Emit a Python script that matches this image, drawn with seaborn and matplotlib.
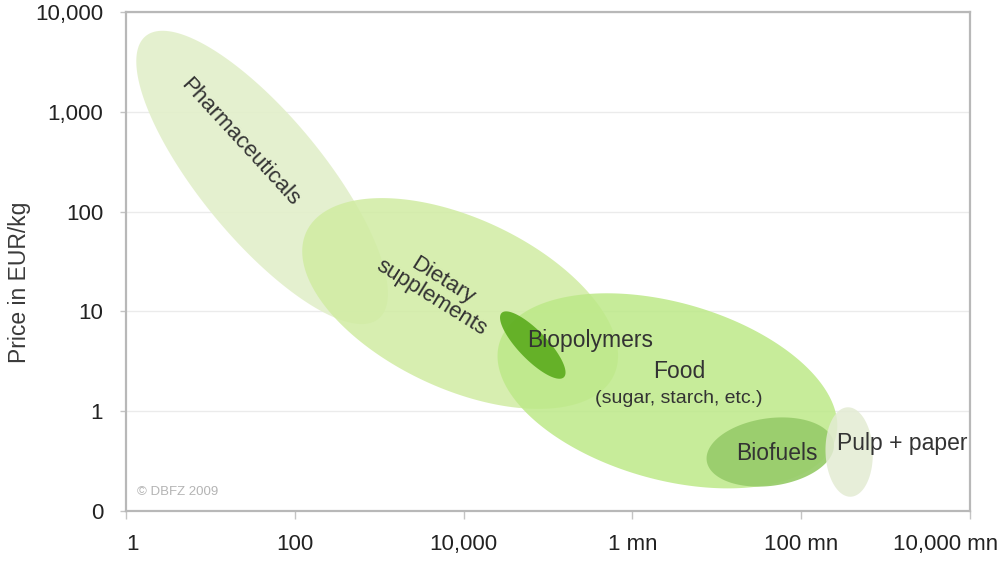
import numpy as np
import pandas as pd
import matplotlib
matplotlib.use('Agg')
import matplotlib.pyplot as plt
import matplotlib.transforms as mtransforms
import seaborn as sns

# market segments: typical volume (t/a) and price (EUR/kg) at the centre of each cloud
categories = ['Pharmaceuticals', 'Dietary supplements', 'Food', 'Biopolymers', 'Biofuels', 'Pulp + paper']
volume_centre = [41, 9.1e3, 2.6e6, 6.6e4, 4.3e7, 3.7e8]
price_centre = [220, 12, 1.6, 4.6, 0.39, 0.39]

x_ticks = [1, 1e2, 1e4, 1e6, 1e8, 1e10]
x_tick_labels = ['1', '100', '10,000', '1 mn', '100 mn', '10,000 mn']
y_ticks = [0.1, 1, 10, 100, 1e3, 1e4]
y_tick_labels = ['0', '1', '10', '100', '1,000', '10,000']

df = pd.DataFrame({'category': categories, 'volume': volume_centre, 'price': price_centre})

# ellipse shape: semi-axes (in x-decades), tilt (deg, downwards to the right), fill colour, alpha
SHAPES = {
    'Pharmaceuticals': (2.17, 0.73, 50.5, '#e2efca', 0.9),
    'Dietary supplements': (2.01, 1.01, 25, '#d0eca2', 0.85),
    'Food': (2.07, 1.05, 15.7, '#bde988', 0.85),
    'Biopolymers': (0.53, 0.17, 46, '#5dad20', 0.92),
    'Biofuels': (0.76, 0.40, -8, '#99cd6c', 0.95),
    'Pulp + paper': (0.53, 0.28, 88, '#e3ebd3', 0.85),
}

sns.set_theme(style='white')
plt.rcParams['font.family'] = ['Liberation Sans', 'DejaVu Sans']

fig = plt.figure(figsize=(9.97, 5.61), dpi=100)
ax = fig.add_axes([126 / 997, 50 / 561, 844 / 997, 499 / 561])
ax.set_xscale('log')
ax.set_yscale('log')
ax.set_xlim(1, 1e10)
ax.set_ylim(0.1, 1e4)

# pixels per decade, used to keep ellipse tilts right on screen
bbox = ax.get_window_extent()
sx = bbox.width / 10
sy = bbox.height / 5

t = np.linspace(0, 2 * np.pi, 300)
for _, row in df.iterrows():
    a, b, tilt, color, alpha = SHAPES[row['category']]
    phi = -np.radians(tilt)
    u = a * np.cos(t)
    v = b * np.sin(t)
    xl = np.log10(row['volume']) + u * np.cos(phi) - v * np.sin(phi)
    yl = np.log10(row['price']) + (u * np.sin(phi) + v * np.cos(phi)) * sx / sy
    ax.fill(10 ** xl, 10 ** yl, color=color, alpha=alpha, lw=0, zorder=2)

txt = '#333333'
ax.text(22.4, 498, 'Pharmaceuticals', rotation=-47.5, rotation_mode='anchor',
        ha='center', va='center', fontsize=16, color=txt, zorder=5)
ax.text(4840, 16.8, 'Dietary\nsupplements', rotation=-32, rotation_mode='anchor',
        ha='center', va='center', multialignment='center', fontsize=16,
        color=txt, linespacing=0.95, zorder=5)
ax.text(3.15e5, 4.4, 'Biopolymers', ha='center', va='baseline', fontsize=16.5, color=txt, zorder=5)
ax.text(3.57e6, 2.15, 'Food', ha='center', va='baseline', fontsize=16.5, color=txt, zorder=5)
ax.text(3.57e6, 1.21, '(sugar, starch, etc.)', ha='center', va='baseline', fontsize=14, color=txt, zorder=5)
ax.text(5.17e7, 0.324, 'Biofuels', ha='center', va='baseline', fontsize=16.5, color=txt, zorder=5)
ax.text(1.56e9, 0.408, 'Pulp + paper', ha='center', va='baseline', fontsize=16.5, color=txt, zorder=5)
ax.text(1.35, 0.145, '\u00a9 DBFZ 2009', ha='left', va='baseline', fontsize=9.5, color='#b4b4b4', zorder=5)

ax.set_xticks(x_ticks)
ax.set_xticklabels(x_tick_labels)
ax.set_yticks(y_ticks)
ax.set_yticklabels(y_tick_labels)
ax.minorticks_off()
ax.tick_params(axis='x', direction='out', length=5.5, width=1, color='#c4c4c4',
               pad=11, labelsize=16, labelcolor='#222222', bottom=True)
ax.tick_params(axis='y', direction='out', length=4.5, width=1, color='#c4c4c4',
               pad=12, labelsize=16, labelcolor='#222222', left=True)

# last label sits a bit to the left so it stays on the canvas
last = ax.get_xticklabels()[-1]
last.set_transform(last.get_transform() + mtransforms.ScaledTranslation(-0.24, 0, fig.dpi_scale_trans))
first = ax.get_xticklabels()[0]
first.set_transform(first.get_transform() + mtransforms.ScaledTranslation(0.06, 0, fig.dpi_scale_trans))

ax.yaxis.grid(True, color='#ebebeb', lw=1)
ax.xaxis.grid(False)
ax.set_axisbelow(True)
for s in ax.spines.values():
    s.set_visible(True)
    s.set_color('#b8b8b8')
    s.set_linewidth(1.6)

ax.set_ylabel('Price in EUR/kg', fontsize=16.5, color='#3a3a3a')
ax.yaxis.set_label_coords(-0.113, 0.459)

fig.savefig('out.png', dpi=100, facecolor='white')
